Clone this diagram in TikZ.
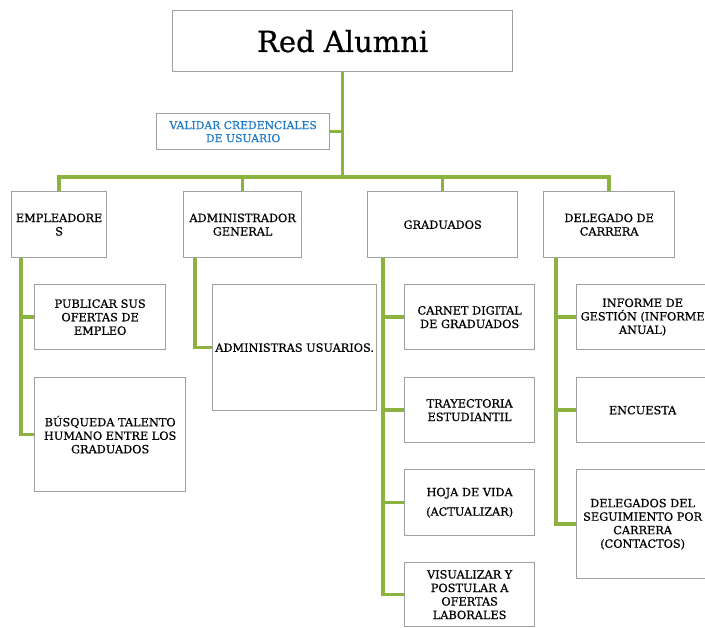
\documentclass[tikz,border=0pt]{standalone}
\usepackage{fontspec}
\setmainfont{DejaVu Serif}[FakeBold=0.6]
\usetikzlibrary{backgrounds}
\definecolor{lgreen}{HTML}{8CB23F}
\definecolor{boxgray}{HTML}{A0A0A0}
\definecolor{vblue}{HTML}{1F7AC8}
\tikzset{
  box/.style={draw=boxgray, line width=1.3pt, fill=white, align=center, inner sep=1pt,
    font=\fontsize{11.3}{13.5}\selectfont, anchor=north west},
  conn/.style={draw=lgreen, line width=3.5pt},
}
\begin{document}
\begin{tikzpicture}[x=1pt,y=-1pt]
\useasboundingbox (0,0) rectangle (705,628);
\clip (0,0) rectangle (705,628);
% top
\node[box, minimum width=340pt, minimum height=61pt, font=\fontsize{29}{32}\selectfont] (top) at (172,10) {Red Alumni};
\node[box, minimum width=173pt, minimum height=36pt, text=vblue, font=\fontsize{10.8}{13}\selectfont] (val) at (156,113) {VALIDAR CREDENCIALES\\DE USUARIO};
% level 1
\node[box, minimum width=95pt, minimum height=66pt] (emp) at (11,191) {EMPLEADORE\\S};
\node[box, minimum width=118pt, minimum height=66pt] (adm) at (183,191) {ADMINISTRADOR\\GENERAL};
\node[box, minimum width=150pt, minimum height=66pt] (gra) at (367,191) {GRADUADOS};
\node[box, minimum width=131pt, minimum height=66pt] (del) at (543,191) {DELEGADO DE\\CARRERA};
% empleadores children
\node[box, minimum width=131pt, minimum height=65pt] (pub) at (34,284) {PUBLICAR SUS\\OFERTAS DE\\EMPLEO};
\node[box, minimum width=151pt, minimum height=114pt] (bus) at (34,377) {BÚSQUEDA TALENTO\\HUMANO ENTRE LOS\\GRADUADOS};
% admin child
\node[box, minimum width=164pt, minimum height=126pt] (adu) at (212,284) {ADMINISTRAS USUARIOS.};
% graduados children
\node[box, minimum width=130pt, minimum height=65pt] (car) at (404,284) {CARNET DIGITAL\\DE GRADUADOS};
\node[box, minimum width=130pt, minimum height=65pt] (tra) at (404,377) {TRAYECTORIA\\ESTUDIANTIL};
\node[box, minimum width=130pt, minimum height=66pt] (hoj) at (404,469) {HOJA DE VIDA\\[6pt](ACTUALIZAR)};
\node[box, minimum width=130pt, minimum height=64pt] (vis) at (404,562) {VISUALIZAR Y\\POSTULAR A\\OFERTAS\\LABORALES};
% delegado children
\node[box, minimum width=132pt, minimum height=65pt] (inf) at (576,284) {INFORME DE\\GESTIÓN (INFORME\\ANUAL)};
\node[box, minimum width=132pt, minimum height=65pt] (enc) at (576,377) {ENCUESTA};
\node[box, minimum width=132pt, minimum height=109pt] (dse) at (576,469) {DELEGADOS DEL\\SEGUIMIENTO POR\\CARRERA\\(CONTACTOS)};
\coordinate (bar) at (0,177);
\begin{scope}[on background layer]
\fill[white] (0,0) rectangle (705,628);
\draw[conn] (top.south) -- (top.south |- bar);
\draw[conn] (val.east) -- (val.east -| top.south);
\draw[conn] (emp.north) -- (emp.north |- bar) -- (del.north |- bar) -- (del.north);
\draw[conn] (adm.north) -- (adm.north |- bar);
\draw[conn] (gra.north) -- (gra.north |- bar);
\draw[conn] ([xshift=10pt]emp.south west) |- (pub.west);
\draw[conn] ([xshift=10pt]emp.south west) |- (bus.west);
\draw[conn] ([xshift=12pt]adm.south west) |- (adu.west);
\draw[conn] ([xshift=16pt]gra.south west) |- (car.west);
\draw[conn] ([xshift=16pt]gra.south west) |- (tra.west);
\draw[conn] ([xshift=16pt]gra.south west) |- (hoj.west);
\draw[conn] ([xshift=16pt]gra.south west) |- (vis.west);
\draw[conn] ([xshift=13pt]del.south west) |- (inf.west);
\draw[conn] ([xshift=13pt]del.south west) |- (enc.west);
\draw[conn] ([xshift=13pt]del.south west) |- (dse.west);
\end{scope}
\end{tikzpicture}
\end{document}
